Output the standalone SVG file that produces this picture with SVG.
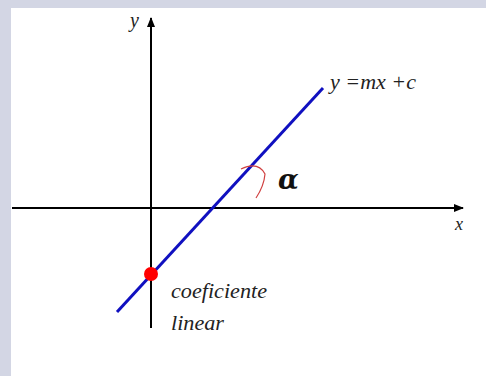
<svg xmlns="http://www.w3.org/2000/svg" width="486" height="376" viewBox="0 0 486 376">
<defs>
<marker id="arr" markerWidth="10" markerHeight="8" refX="9" refY="4" orient="auto" markerUnits="userSpaceOnUse">
<path d="M0,0 L10,4 L0,8 Z" fill="#000"/>
</marker>
<style>
.it{font-family:"Liberation Serif","Times New Roman",serif;font-style:italic;fill:#222}
</style>
</defs>
<rect x="0" y="0" width="486" height="376" fill="#d3d6e4"/>
<rect x="11" y="8" width="475" height="368" fill="#ffffff"/>
<g id="connectors">
<line x1="12" y1="208" x2="463" y2="208" stroke="#000" stroke-width="2" marker-end="url(#arr)"/>
<line x1="151" y1="328" x2="151" y2="18" stroke="#000" stroke-width="2" marker-end="url(#arr)"/>
<line x1="117" y1="312" x2="323" y2="88" stroke="#1010c0" stroke-width="3"/>
<path d="M241,169 Q258,161 265,174 Q264,186 256,198" fill="none" stroke="#d04040" stroke-width="1.2"/>
</g>
<g id="point">
<circle cx="151" cy="274" r="7" fill="#ff0000"/>
</g>
<g id="labels">
<text class="it" x="130" y="27" font-size="20">y</text>
<text class="it" x="455" y="230" font-size="18">x</text>
<text class="it" x="330" y="89" font-size="21" textLength="86" lengthAdjust="spacingAndGlyphs">y =mx +c</text>
<text x="278" y="189" font-family="'DejaVu Serif',serif" font-weight="bold" font-style="italic" font-size="27" fill="#111">α</text>
<text class="it" x="171" y="298" font-size="20" textLength="96" lengthAdjust="spacingAndGlyphs">coeficiente</text>
<text class="it" x="171" y="330" font-size="20" textLength="53" lengthAdjust="spacingAndGlyphs">linear</text>
</g>
</svg>
